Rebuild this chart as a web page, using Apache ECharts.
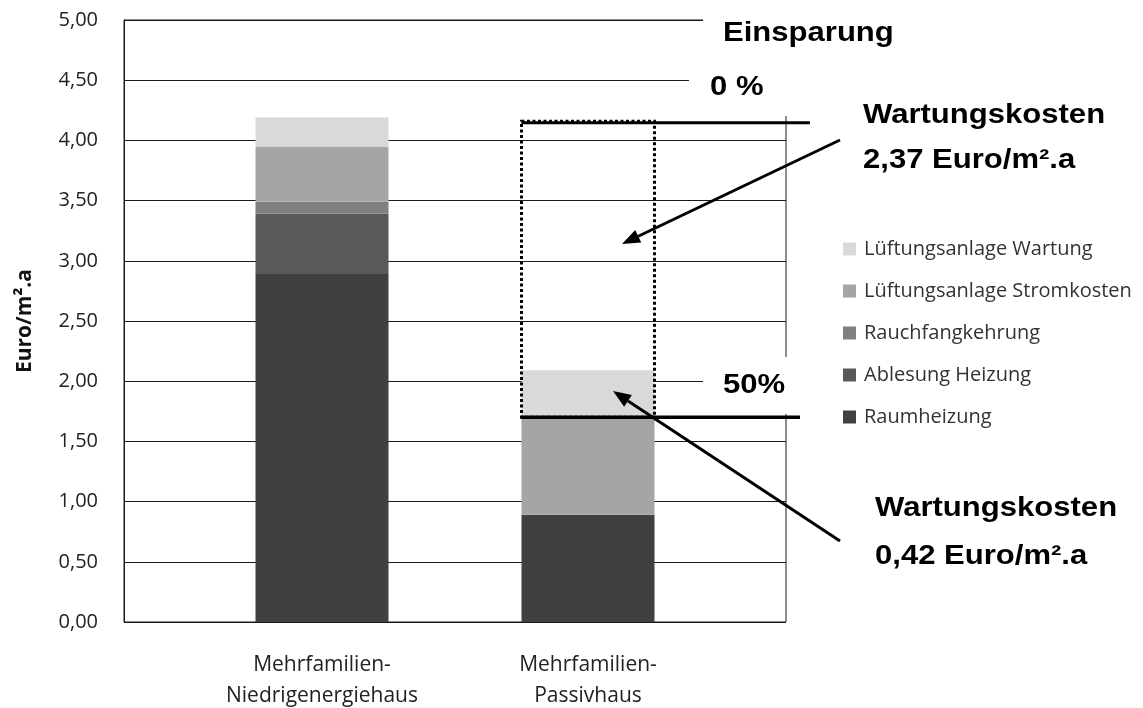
<!DOCTYPE html>
<html>
<head>
<meta charset="utf-8">
<title>Betriebskosten Mehrfamilienhaus</title>
<script src="https://cdn.jsdelivr.net/npm/echarts@6/dist/echarts.min.js"></script>
<style>
    html, body { margin: 0; padding: 0; background: #fff; }
    #chart { width: 1143px; height: 708px; }
</style>
</head>
<body>
<div id="chart"></div>
<script>
    // Kategorien und Werte (Euro/m².a), von unten nach oben gestapelt
    const categories = ['Mehrfamilien-\nNiedrigenergiehaus', 'Mehrfamilien-\nPassivhaus'];
    const raumheizung = [2.89, 0.89];
    const ablesungHeizung = [0.50, 0];
    const rauchfangkehrung = [0.10, 0];
    const lueftungStromkosten = [0.46, 0.81];
    const lueftungWartung = [0.24, 0.39];

    const seriesNames = ['Raumheizung', 'Ablesung Heizung', 'Rauchfangkehrung',
        'Lüftungsanlage Stromkosten', 'Lüftungsanlage Wartung'];
    const seriesColors = ['#404040', '#595959', '#7f7f7f', '#a5a5a5', '#d9d9d9'];

    // y-Achse
    const yMin = 0;
    const yMax = 5;
    const yStep = 0.5;

    // Einsparungs-Markierung am Passivhaus: 0 % und 50 %
    const savingLevels = [4.16, 1.70];
    const savingLabels = ['0 %', '50%'];

    const myChart = echarts.init(document.getElementById('chart'));

    const stacked = [raumheizung, ablesungHeizung, rauchfangkehrung, lueftungStromkosten, lueftungWartung];

    myChart.setOption({
        animation: false,
        backgroundColor: '#fff',
        legend: {
            orient: 'vertical',
            left: 838,
            top: 234,
            itemWidth: 13,
            itemHeight: 13,
            itemGap: 22,
            icon: 'rect',
            data: seriesNames.slice().reverse(),
            textStyle: {
                fontFamily: 'Open Sans',
                fontSize: 20,
                lineHeight: 20,
                color: '#333',
                padding: [0, 0, 0, 3]
            }
        },
        // grid 0: Rahmen, Gitterlinien und y-Achse; grid 1: die Säulen
        grid: [{
            left: 124,
            right: 357,
            top: 20,
            bottom: 86,
            outerBoundsMode: 'none',
            show: true,
            borderColor: '#1a1a1a',
            borderWidth: 1
        }, {
            left: 189,
            width: 532,
            top: 20,
            bottom: 86,
            outerBoundsMode: 'none'
        }],
        xAxis: [{
            gridIndex: 0,
            type: 'value',
            min: 0,
            max: 1,
            show: false
        }, {
            gridIndex: 1,
            type: 'category',
            data: categories,
            axisLine: { show: false },
            axisTick: { show: false },
            axisLabel: {
                margin: 28,
                fontFamily: 'Open Sans',
                fontSize: 21,
                lineHeight: 31,
                color: '#222'
            }
        }],
        yAxis: [{
            gridIndex: 0,
            type: 'value',
            min: yMin,
            max: yMax,
            interval: yStep,
            name: 'Euro/m².a',
            nameLocation: 'middle',
            nameRotate: 90,
            nameGap: 88,
            nameTextStyle: {
                fontFamily: 'Open Sans',
                fontWeight: 'bold',
                fontSize: 21,
                color: '#111'
            },
            axisLine: { show: true, lineStyle: { color: '#1a1a1a', width: 1 } },
            axisTick: { show: false },
            axisLabel: {
                margin: 26,
                fontFamily: 'Open Sans',
                fontSize: 20,
                color: '#222',
                formatter: v => v.toFixed(2).replace('.', ',')
            },
            splitLine: { show: true, lineStyle: { color: '#1a1a1a', width: 1 } }
        }, {
            gridIndex: 1,
            type: 'value',
            min: yMin,
            max: yMax,
            show: false
        }],
        series: seriesNames.map((name, i) => ({
            name: name,
            type: 'bar',
            stack: 'kosten',
            xAxisIndex: 1,
            yAxisIndex: 1,
            barWidth: '50%',
            itemStyle: { color: seriesColors[i] },
            data: stacked[i]
        }))
    });

    // Anmerkungen: Rahmen, Linien, Pfeile, Texte
    const toPx = (cat, val) => myChart.convertToPixel({ gridIndex: 1 }, [cat, val]);
    const c0 = toPx(0, 0);
    const c1 = toPx(1, 0);
    const halfBar = (c1[0] - c0[0]) * 0.25;
    const boxLeft = c1[0] - halfBar;
    const boxRight = c1[0] + halfBar;
    const yTop = toPx(1, savingLevels[0])[1];
    const yBottom = toPx(1, savingLevels[1])[1];

    function arrow(x1, y1, x2, y2) {
        const dx = x2 - x1, dy = y2 - y1;
        const len = Math.sqrt(dx * dx + dy * dy);
        const ux = dx / len, uy = dy / len;
        const headLen = 18, headW = 7;
        const bx = x2 - ux * headLen, by = y2 - uy * headLen;
        return [{
            type: 'line', z: 20,
            shape: { x1: x1, y1: y1, x2: bx, y2: by },
            style: { stroke: '#000', lineWidth: 3 }
        }, {
            type: 'polygon', z: 20,
            shape: { points: [[x2, y2], [bx - uy * headW, by + ux * headW], [bx + uy * headW, by - ux * headW]] },
            style: { fill: '#000' }
        }];
    }

    function label(text, x, y) {
        return {
            type: 'text', z: 21,
            x: x, y: y,
            scaleX: 1.15,
            style: {
                text: text,
                x: 0, y: 0,
                font: 'bold 27px "Liberation Sans", Arial, sans-serif',
                fill: '#000',
                align: 'left', verticalAlign: 'middle',
                textAlign: 'left', textVerticalAlign: 'middle'
            }
        };
    }

    const whiteBox = (x, y, w, h) => ({
        type: 'rect', z: 10,
        shape: { x: x, y: y, width: w, height: h },
        style: { fill: '#fff' }
    });

    const elements = [
        whiteBox(703, 0, 440, 60),
        whiteBox(689, 60, 454, 56),
        whiteBox(703, 357, 120, 57),
        {
            type: 'rect', z: 15,
            shape: { x: boxLeft, y: yTop, width: boxRight - boxLeft, height: yBottom - yTop },
            style: { fill: 'none', stroke: '#000', lineWidth: 3, lineDash: [3, 2.5] }
        },
        {
            type: 'line', z: 16,
            shape: { x1: boxLeft, y1: yTop + 1.5, x2: 810, y2: yTop + 1.5 },
            style: { stroke: '#000', lineWidth: 3 }
        },
        {
            type: 'line', z: 16,
            shape: { x1: boxLeft, y1: yBottom, x2: 800, y2: yBottom },
            style: { stroke: '#000', lineWidth: 3.5 }
        },
        ...arrow(840, 140, 622, 244),
        ...arrow(840, 541, 613, 391),
        label('Einsparung', 723, 34),
        label(savingLabels[0], 710, 88),
        label(savingLabels[1], 723, 386),
        label('Wartungskosten', 863, 116),
        label('2,37 Euro/m².a', 863, 161),
        label('Wartungskosten', 875, 509),
        label('0,42 Euro/m².a', 875, 557)
    ];

    myChart.setOption({ graphic: { elements: elements } });

    window.addEventListener('resize', () => {
        myChart.resize();
    });
</script>
</body>
</html>
